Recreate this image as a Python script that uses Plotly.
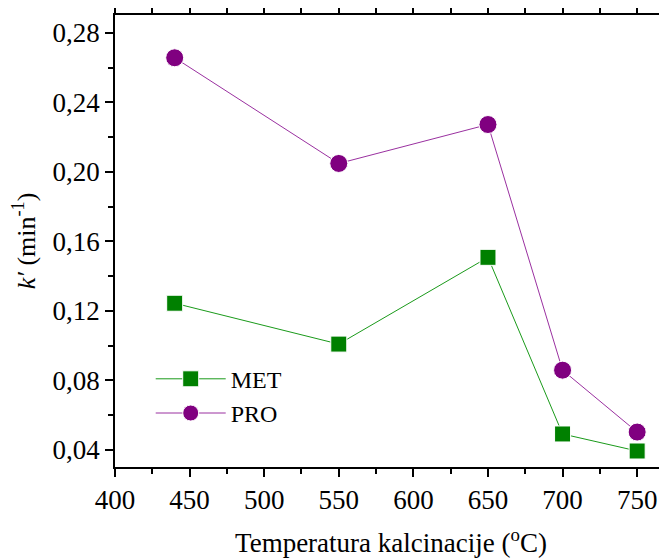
import plotly.graph_objects as go

temps = [440, 550, 650, 700, 750]
met = [0.1244, 0.1009, 0.1508, 0.0492, 0.0394]
pro = [0.2656, 0.2048, 0.2272, 0.0859, 0.0503]
y_ticks = [0.04, 0.08, 0.12, 0.16, 0.20, 0.24, 0.28]
x_ticks = [400, 450, 500, 550, 600, 650, 700, 750]

FONT = "Liberation Serif"

fig = go.Figure()
fig.add_trace(go.Scatter(
    x=temps, y=met, name="MET", mode="lines+markers",
    line=dict(color="#1a9a1a", width=1),
    marker=dict(symbol="square", size=16, color="#008000",
                line=dict(color="white", width=1)),
))
fig.add_trace(go.Scatter(
    x=temps, y=pro, name="PRO", mode="lines+markers",
    line=dict(color="#9a30a0", width=1),
    marker=dict(symbol="circle", size=18, color="#800080",
                line=dict(color="white", width=1)),
))

axis_common = dict(
    showgrid=False, zeroline=False, showline=True, linecolor="black", linewidth=1.5,
    ticks="outside", ticklen=8, tickwidth=1.5, tickcolor="black",
    tickfont=dict(family=FONT, size=27, color="black"),
    automargin=False,
)

# page body has an 8px default margin, so the figure is 8px smaller and offset
fig.update_layout(
    width=659, height=550,
    margin=dict(l=107, r=0, t=7, b=91),
    plot_bgcolor="white", paper_bgcolor="white",
    separators=",.",
    font=dict(family=FONT, color="black", size=24),
    showlegend=True,
    legend=dict(x=0.0647, y=0.244, xanchor="left", yanchor="top",
                bgcolor="rgba(0,0,0,0)", font=dict(family=FONT, size=24),
                itemwidth=70, tracegroupgap=0),
    xaxis=dict(
        range=[400, 770], tickvals=x_ticks, mirror="ticks",
        minor=dict(dtick=25, ticklen=5, tickwidth=1.5, tickcolor="black", ticks="outside"),
        title=dict(text="Temperatura kalcinacije (<sup>o</sup>C)",
                   font=dict(family=FONT, size=27), standoff=24),
        **axis_common,
    ),
    yaxis=dict(
        range=[0.0302, 0.2902], tickvals=y_ticks, tickformat=".2f",
        minor=dict(tick0=0.02, dtick=0.04, ticklen=5, tickwidth=1.5, tickcolor="black", ticks="outside"),
        title=dict(text="<i>k′</i> (min<sup>-1</sup>)",
                   font=dict(family=FONT, size=26), standoff=12),
        **axis_common,
    ),
)

fig.write_html("out.html")
